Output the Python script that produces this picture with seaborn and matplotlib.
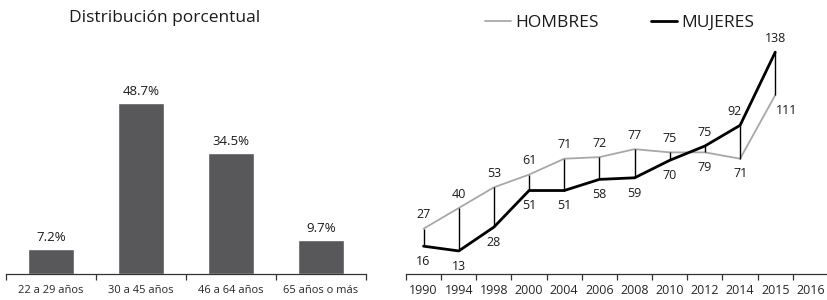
"""
Distribución porcentual por edad y evolución por sexo (1990-2016)
"""

import numpy as np
import pandas as pd
import matplotlib.pyplot as plt
import seaborn as sns

# ── Datos ────────────────────────────────────────────────────────────────────
EDADES      = ['22 a 29 años', '30 a 45 años', '46 a 64 años', '65 años o más']
PORCENTAJES = [7.2, 48.7, 34.5, 9.7]

ANIOS    = ['1990', '1994', '1998', '2000', '2004', '2006', '2008',
            '2010', '2012', '2014', '2015', '2016']
HOMBRES  = [27, 40, 53, 61, 71, 72, 77, 75, 75, 71, 111]
MUJERES  = [16, 13, 28, 51, 51, 58, 59, 70, 79, 92, 138]
# en qué puntos la etiqueta de hombres va arriba (si no, va la de mujeres)
HOMBRES_ARRIBA = [True] * 9 + [False] * 2

COLOR_BARRA = '#58585a'
COLOR_H     = '#a8a8a8'
COLOR_M     = '#000000'

# ── Estilo ───────────────────────────────────────────────────────────────────
sns.set_style('white')
plt.rcParams['font.family'] = ['Open Sans', 'DejaVu Sans']
plt.rcParams['text.color'] = '#1a1a1a'

W, H = 828, 300
fig = plt.figure(figsize=(W / 100, H / 100), dpi=100)

# ══════════════════════════════════════════════════════════════════════════════
# Barras — distribución porcentual
# ══════════════════════════════════════════════════════════════════════════════
ax1 = fig.add_axes([6 / W, 26 / H, 360 / W, 210.6 / H])
df_edad = pd.DataFrame({'edad': EDADES, 'pct': PORCENTAJES})
sns.barplot(data=df_edad, x='edad', y='pct', ax=ax1, color=COLOR_BARRA,
            width=0.51, saturation=1)
ax1.set_xlim(-0.5, len(EDADES) - 0.5)
ax1.set_ylim(0, 60)
ax1.bar_label(ax1.containers[0], labels=[f'{v}%' for v in PORCENTAJES],
              padding=3.5, fontsize=9.5)
ax1.set_xlabel('')
ax1.set_ylabel('')
ax1.set_yticks([])
ax1.set_xticks(range(len(EDADES)))
ax1.set_xticklabels(EDADES, fontsize=8)
ax1.set_xticks(np.arange(-0.5, len(EDADES)), minor=True)
ax1.tick_params(axis='x', which='major', length=0, pad=8)
ax1.tick_params(axis='x', which='minor', length=4, width=0.9,
                color='#333333', direction='out', bottom=True)
sns.despine(ax=ax1, left=True)
ax1.spines['bottom'].set_color('#333333')
ax1.spines['bottom'].set_linewidth(0.9)

fig.text(165 / W, 1 - 18 / H, 'Distribución porcentual',
         ha='center', va='center', fontsize=12.5)

# ══════════════════════════════════════════════════════════════════════════════
# Líneas — hombres y mujeres
# ══════════════════════════════════════════════════════════════════════════════
ax2 = fig.add_axes([406 / W, 26 / H, 422 / W, 256.8 / H])
pos = np.arange(len(HOMBRES))
sns.lineplot(x=pos, y=HOMBRES, ax=ax2, color=COLOR_H, lw=1.3, label='HOMBRES')
sns.lineplot(x=pos, y=MUJERES, ax=ax2, color=COLOR_M, lw=2.0, label='MUJERES')
ax2.vlines(pos, HOMBRES, MUJERES, color='black', lw=1.0)

for i in pos:
    alto, bajo = max(HOMBRES[i], MUJERES[i]), min(HOMBRES[i], MUJERES[i])
    arriba, abajo = ((HOMBRES[i], MUJERES[i]) if HOMBRES_ARRIBA[i]
                     else (MUJERES[i], HOMBRES[i]))
    # el 92 se corre un poco a la izquierda para no pisar la línea
    dx_arriba = -4 if i == len(pos) - 2 else 0
    ax2.annotate(str(arriba), (i, alto), xytext=(dx_arriba, 10),
                 textcoords='offset points', ha='center', va='center',
                 fontsize=9)
    dx_abajo = 8 if i == len(pos) - 1 else 0
    ax2.annotate(str(abajo), (i, bajo), xytext=(dx_abajo, -11),
                 textcoords='offset points', ha='center', va='center',
                 fontsize=9)

ax2.set_xlim(-0.5, len(ANIOS) - 0.5)
ax2.set_ylim(-1.5, 160)
ax2.set_yticks([])
ax2.set_xticks(range(len(ANIOS)))
ax2.set_xticklabels(ANIOS, fontsize=9)
ax2.set_xticks(np.arange(-0.5, len(ANIOS)), minor=True)
ax2.tick_params(axis='x', which='major', length=0, pad=7)
ax2.tick_params(axis='x', which='minor', length=4, width=0.9,
                color='#333333', direction='out', bottom=True)
sns.despine(ax=ax2, left=True)
ax2.spines['bottom'].set_color('#333333')
ax2.spines['bottom'].set_linewidth(0.9)

ax2.legend(loc='center', bbox_to_anchor=(619.5 / W, 1 - 23 / H),
           bbox_transform=fig.transFigure, ncol=2, frameon=False,
           fontsize=12.5, handlelength=1.5, handletextpad=0.25,
           columnspacing=3.0)

fig.savefig('out.png', dpi=100)
